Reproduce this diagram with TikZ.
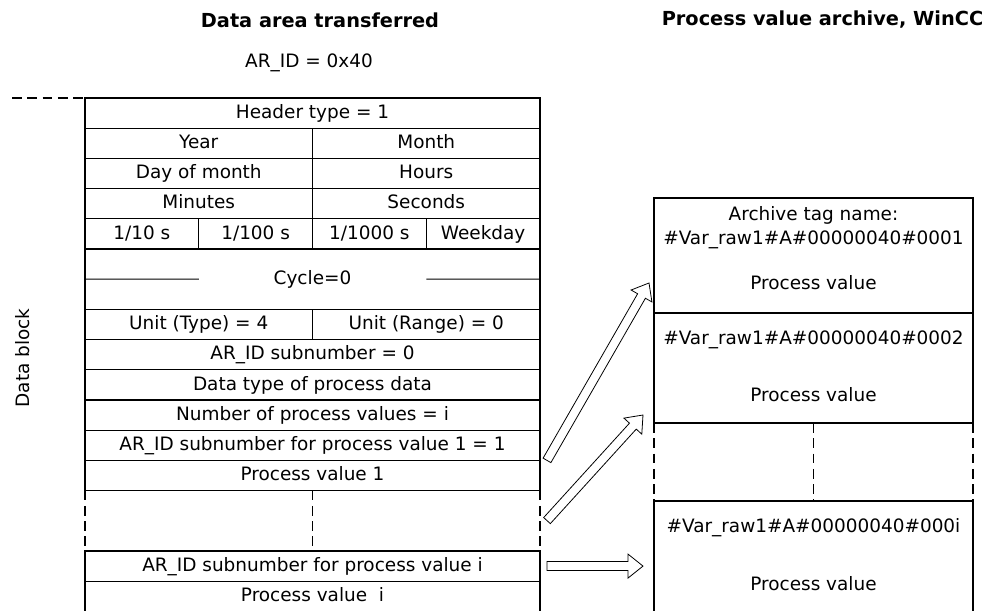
\documentclass[tikz,border=0pt]{standalone}
\usepackage{fontspec}
\setmainfont{DejaVu Sans}
\usetikzlibrary{calc,positioning}

\newcommand{\cellfont}{\fontsize{10.5}{14}\selectfont}
\newcommand{\titlefont}{\fontsize{11}{13}\selectfont\bfseries}

% freccia a blocco vuota da #1 a #2
\newcommand{\blockarrow}[2]{%
  \draw[blockarr] let \p1=($(#2)-(#1)$), \n1={atan2(\y1,\x1)}, \n2={veclen(\x1,\y1)} in
    ($(#1)+(\n1+90:0.09cm)$) -- ++(\n1:\n2-0.3cm) -- ++(\n1+90:0.15cm) -- (#2)
    -- ($(#2)+(\n1+180:0.3cm)+(\n1-90:0.24cm)$) -- ++(\n1+90:0.15cm)
    -- ($(#1)+(\n1-90:0.09cm)$) -- cycle;}

\tikzset{
  cell/.style={draw, line width=0.6pt, inner sep=0pt, outer sep=0pt,
               minimum height=0.604cm, text height=1.55ex, text depth=0.45ex,
               font=\cellfont, anchor=north west},
  full/.style={cell, minimum width=9.1cm},
  half/.style={cell, minimum width=4.55cm},
  quarter/.style={cell, minimum width=2.275cm},
  archbox/.style={draw, line width=0.6pt, inner sep=0pt, outer sep=0pt,
                  minimum width=6.38cm, anchor=north west},
  gapline/.style={line width=0.6pt, dash pattern=on 5.5pt off 3.2pt},
  blockarr/.style={draw, fill=white, line width=0.45pt, line join=miter},
  plain/.style={font=\cellfont, inner sep=1pt}
}

\begin{document}
\begin{tikzpicture}

    \useasboundingbox (0,0) rectangle (20,12.22);

    % ----------------------------------------------------
    % Titoli
    % ----------------------------------------------------
    \node[font=\titlefont] (srctitle) at (6.40,11.82) {Data area transferred};
    \node[plain] (arid) at (6.18,10.96) {AR\_ID = 0x40};
    \node[font=\titlefont] (dsttitle) at (16.45,11.82) {Process value archive, WinCC};
    \node[plain, rotate=90] (dblabel) at (0.46,5.06) {Data block};

    % ----------------------------------------------------
    % Blocco dati
    % ----------------------------------------------------
    \node[full] (hdr) at (1.70,10.26) {Header type = 1};
    \draw[gapline] (0.24,10.26) -- (hdr.north west);

    \node[half] (year) at (hdr.south west) {Year};
    \node[half] (month) at (year.north east) {Month};
    \node[half] (day) at (year.south west) {Day of month};
    \node[half] (hours) at (day.north east) {Hours};
    \node[half] (minutes) at (day.south west) {Minutes};
    \node[half] (seconds) at (minutes.north east) {Seconds};
    \node[quarter] (tenth) at (minutes.south west) {1/10 s};
    \node[quarter] (hundredth) at (tenth.north east) {1/100 s};
    \node[quarter] (thousandth) at (hundredth.north east) {1/1000 s};
    \node[quarter] (weekday) at (thousandth.north east) {Weekday};

    \node[full, minimum height=1.208cm] (cycle) at (tenth.south west) {Cycle=0};
    \draw[line width=0.6pt] (cycle.west) -- ($(cycle.west)!0.25!(cycle.east)$);
    \draw[line width=0.6pt] ($(cycle.west)!0.75!(cycle.east)$) -- (cycle.east);

    \node[half] (unittype) at (cycle.south west) {Unit (Type) = 4};
    \node[half] (unitrange) at (unittype.north east) {Unit (Range) = 0};
    \node[full] (subzero) at (unittype.south west) {AR\_ID subnumber = 0};
    \node[full] (datatype) at (subzero.south west) {Data type of process data};
    \node[full] (count) at (datatype.south west) {Number of process values = i};
    \node[full] (subone) at (count.south west) {AR\_ID subnumber for process value 1 = 1};
    \node[full] (valone) at (subone.south west) {Process value 1};

    % zona tratteggiata
    \coordinate (gapend) at ([yshift=-1.208cm]valone.south west);
    \draw[gapline] (valone.south west) -- (gapend);
    \draw[gapline] (valone.south) -- ++(0,-1.208);
    \draw[gapline] (valone.south east) -- ++(0,-1.208);

    \node[full] (subi) at (gapend) {AR\_ID subnumber for process value i};
    \node[full, draw=none] (vali) at (subi.south west) {Process value~~i};
    \draw[line width=0.6pt] (vali.north west) -- (vali.south west)
                            (vali.north east) -- (vali.south east);

    % ----------------------------------------------------
    % Archivio valori di processo
    % ----------------------------------------------------
    \node[archbox, minimum height=2.3cm] (arch1) at (13.08,8.26) {};
    \node[archbox, minimum height=2.2cm] (arch2) at (arch1.south west) {};
    \coordinate (gap2) at ([yshift=-1.56cm]arch2.south west);
    \draw[gapline] (arch2.south west) -- (gap2);
    \draw[gapline] (arch2.south) -- ++(0,-1.56);
    \draw[gapline] (arch2.south east) -- ++(0,-1.56);
    \node[archbox, draw=none, minimum height=2.2cm] (arch3) at (gap2) {};
    \draw[line width=0.6pt] (arch3.south west) -- (arch3.north west)
                            -- (arch3.north east) -- (arch3.south east);

    \node[plain, align=center] (tag1) at ([yshift=-0.59cm]arch1.north)
        {Archive tag name:\\\#Var\_raw1\#A\#00000040\#0001};
    \node[plain] (val1) at ([yshift=-1.70cm]arch1.north) {Process value};
    \node[plain] (tag2) at ([yshift=-0.54cm]arch2.north) {\#Var\_raw1\#A\#00000040\#0002};
    \node[plain] (val2) at ([yshift=-1.64cm]arch2.north) {Process value};
    \node[plain] (tag3) at ([yshift=-0.54cm]arch3.north) {\#Var\_raw1\#A\#00000040\#000i};
    \node[plain] (val3) at ([yshift=-1.66cm]arch3.north) {Process value};

    % ----------------------------------------------------
    % Frecce
    % ----------------------------------------------------
    \coordinate (tail1) at ([xshift=0.14cm]subone.south east);
    \coordinate (tip1) at ([xshift=-0.10cm, yshift=0.60cm]arch1.south west);
    \coordinate (tail2) at ([xshift=0.14cm, yshift=-0.60cm]valone.south east);
    \coordinate (tip2) at ([xshift=-0.22cm, yshift=0.16cm]arch2.south west);
    \coordinate (tail3) at ([xshift=0.14cm]subi.east);
    \coordinate (tip3) at (tail3 -| tip2);

    \blockarrow{tail1}{tip1}
    \blockarrow{tail2}{tip2}
    \blockarrow{tail3}{tip3}

\end{tikzpicture}
\end{document}
